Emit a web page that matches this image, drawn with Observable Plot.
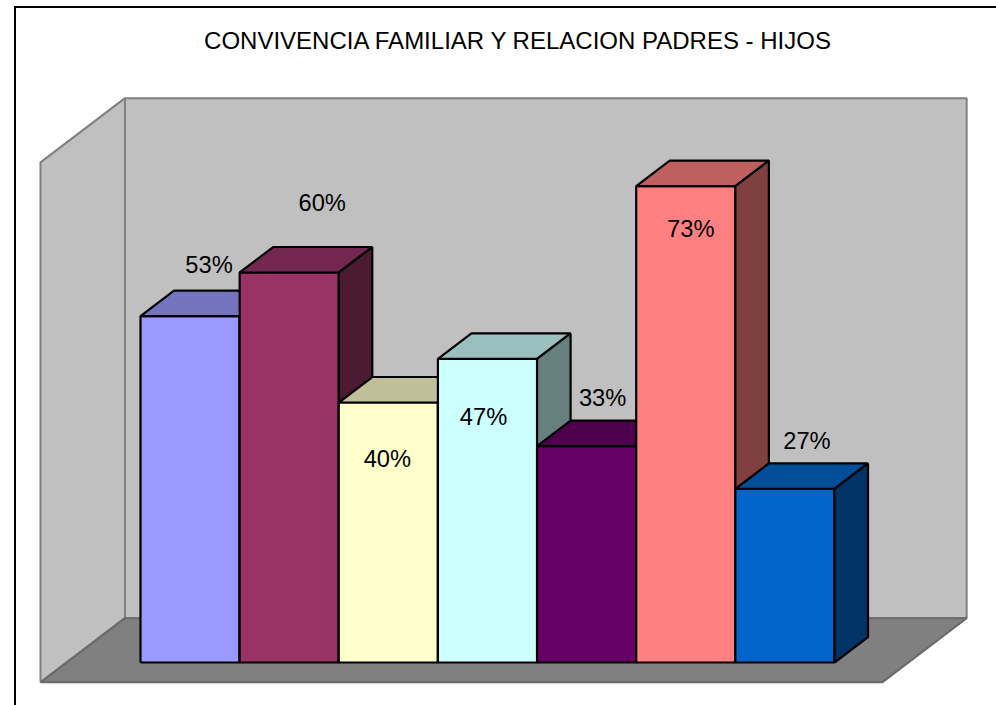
<!DOCTYPE html>
<html>
<head>
<meta charset="utf-8">
<script src="https://cdn.jsdelivr.net/npm/d3@7"></script>
<script src="https://cdn.jsdelivr.net/npm/@observablehq/plot@0.6"></script>
<style>
  body { margin: 0; background: #fff; }
  #wrap { position: relative; width: 996px; height: 705px; overflow: hidden; font-family: "Liberation Sans", Arial, sans-serif; }
  #wrap svg { position: absolute; left: 0; top: 0; }
  #frame { position: absolute; left: 14px; top: 6px; width: 1200px; height: 900px; border-left: 2px solid #000; border-top: 2px solid #000; box-sizing: border-box; }
  #title { position: absolute; left: 0; top: 27px; width: 1035px; text-align: center; font-size: 24px; color: #000; white-space: nowrap; }
</style>
</head>
<body>
<div id="wrap">
  <div id="frame"></div>
  <div id="title">CONVIVENCIA FAMILIAR Y RELACION PADRES - HIJOS</div>
</div>
<script>
// ---- data ----
const categories = ["1", "2", "3", "4", "5", "6", "7"];
const values = [53.3, 60, 40, 46.7, 33.3, 73.3, 26.7];
const valueLabels = values.map(v => Math.round(v) + "%");
const axisMax = 80;

// ---- styles ----
const frontColors = ["#9999FF", "#993366", "#FFFFCC", "#CCFFFF", "#660066", "#FF8080", "#0066CC"];
const topColors   = ["#7373BF", "#732650", "#BFBF99", "#99BFBF", "#4D004D", "#BF6060", "#004D99"];
const sideColors  = ["#4D4D80", "#4D1A33", "#808066", "#668080", "#330033", "#804040", "#003366"];

// 3D depth: one bar-depth step in data units
const DX = 0.338, DY = 3.92;
const zFront = -0.78, zBack = 1.74;
const xLeft = -0.745, xRight = categories.length + 0.745;
const P = (id, x, y, z, fill, stroke) => ({id, x: x + z * DX, y: y + z * DY, fill, stroke});

function poly(id, pts, fill, stroke) {
  const out = pts.map(([x, y, z]) => P(id, x, y, z, fill, stroke));
  out.push({...out[0]});
  return out;
}

// walls and floor
const walls = [
  ...poly("back", [[xLeft, 0, zBack], [xRight, 0, zBack], [xRight, axisMax, zBack], [xLeft, axisMax, zBack]], "#C0C0C0", "#808080"),
  ...poly("left", [[xLeft, 0, zFront], [xLeft, 0, zBack], [xLeft, axisMax, zBack], [xLeft, axisMax, zFront]], "#C0C0C0", "#808080"),
  ...poly("floor", [[xLeft, 0, zFront], [xRight, 0, zFront], [xRight, 0, zBack], [xLeft, 0, zBack]], "#808080", "#6a6a6a")
];

// bars
const faces = [];
values.forEach((v, i) => {
  const x0 = i, x1 = i + 1;
  faces.push(...poly("f" + i, [[x0, 0, 0], [x1, 0, 0], [x1, v, 0], [x0, v, 0]], frontColors[i], "#000"));
  faces.push(...poly("t" + i, [[x0, v, 0], [x1, v, 0], [x1, v, 1], [x0, v, 1]], topColors[i], "#000"));
  faces.push(...poly("s" + i, [[x1, 0, 0], [x1, 0, 1], [x1, v, 1], [x1, v, 0]], sideColors[i], "#000"));
});

// label nudges (pixels) relative to the bar centre at its value
const nudges = [[19, -51], [33, -69], [-1, 57], [-4, 58], [16, -48], [5, 43], [22, -48]];

const labelMarks = values.map((v, i) => Plot.text([i], {
  x: d => d + 0.5,
  y: d => values[d],
  text: d => valueLabels[d],
  dx: nudges[i][0],
  dy: nudges[i][1],
  fontSize: 23.7,
  fill: "#000"
}));

const chart = Plot.plot({
  width: 996,
  height: 705,
  marginLeft: 140,
  marginRight: 162,
  marginTop: 142,
  marginBottom: 43,
  x: {type: "linear", domain: [0, categories.length], axis: null},
  y: {type: "linear", domain: [0, axisMax], axis: null},
  color: {type: "identity"},
  style: {background: "transparent", fontFamily: "'Liberation Sans', Arial, sans-serif", overflow: "visible"},
  marks: [
    Plot.line(walls, {x: "x", y: "y", z: "id", fill: "fill", stroke: "stroke", strokeWidth: 2, strokeLinejoin: "miter", strokeLinecap: "butt"}),
    Plot.line(faces, {x: "x", y: "y", z: "id", fill: "fill", stroke: "stroke", strokeWidth: 2.2, strokeLinejoin: "miter", strokeLinecap: "butt"}),
    ...labelMarks
  ]
});
document.getElementById("wrap").prepend(chart);
</script>
</body>
</html>
